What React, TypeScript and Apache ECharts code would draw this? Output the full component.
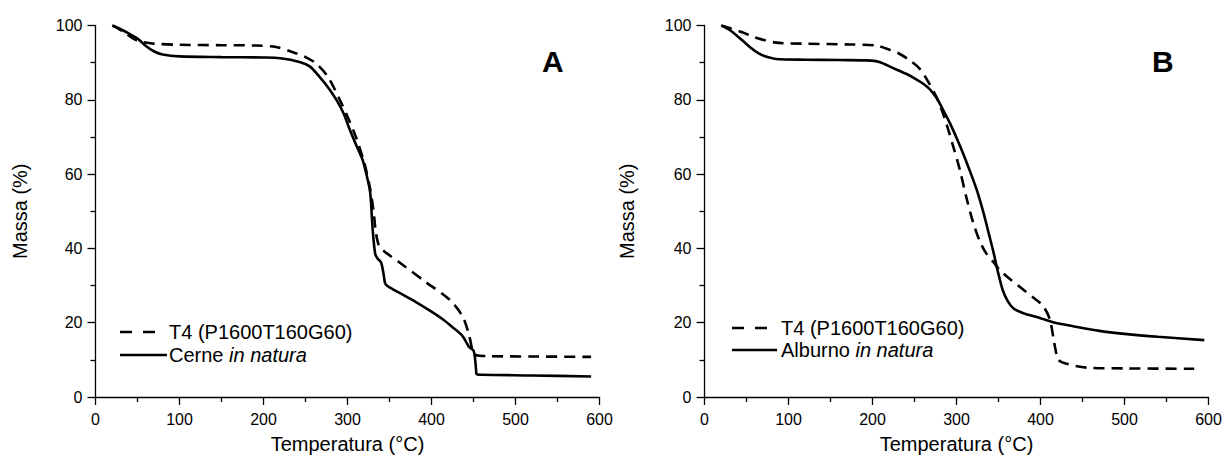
import React, { useEffect, useRef } from "react";
import * as echarts from "echarts";

// Panel A (Cerne)
const tempA_T4 = [20, 25, 35, 45, 55, 70, 100, 150, 192, 215, 235, 250, 263, 277, 291, 300, 310, 320, 327, 331, 334, 338, 346, 362, 394, 421, 437, 445, 449, 452, 469, 520, 590];
const massA_T4 = [100, 99.5, 98, 96.5, 95.6, 95.1, 94.8, 94.7, 94.6, 94.2, 92.8, 91.5, 89.7, 86.1, 79.9, 75.5, 70, 63, 56, 50, 44, 40.5, 38.8, 36.2, 30.8, 26.3, 21.7, 16.4, 12.3, 11.3, 11.0, 10.9, 10.8];
const tempA_Cerne = [20, 30, 40, 50, 60, 70, 80, 100, 150, 200, 220, 243, 255, 267, 278, 287, 295, 303, 310, 318, 323, 327, 330, 333, 336, 340, 343, 345, 350, 354, 370, 382, 400, 413, 425, 437, 442, 445, 450, 452, 453, 453.5, 460, 520, 590];
const massA_Cerne = [100, 99, 97.8, 96.5, 94.5, 93, 92.2, 91.7, 91.5, 91.4, 91.2, 90.2, 89, 86.1, 83, 79.9, 76.5, 71.8, 68, 63.8, 59.5, 55, 45, 38.5, 37.2, 36.2, 33, 30.5, 29.5, 29, 27, 25.5, 23, 21, 18.8, 16.4, 14.5, 13.4, 12.5, 10, 7.5, 6.2, 6.0, 5.8, 5.5];

// Panel B (Alburno)
const tempB_T4 = [20, 30, 45, 60, 85, 120, 173, 204, 220, 232, 245, 256, 266, 276, 282, 288, 296, 304, 312, 320, 328, 335, 345, 351, 365, 379, 393, 403, 411, 416, 419, 421, 430, 455, 500, 583];
const massB_T4 = [100, 99.3, 98.2, 96.8, 95.4, 95.1, 94.9, 94.6, 93.5, 92.4, 90.5, 88.4, 85, 80.8, 77.5, 73.6, 67.5, 61.1, 53.5, 46.8, 41.8, 38.8, 36, 34.3, 31.5, 29, 26.5, 24.5, 21, 15, 11.5, 10, 9, 7.9, 7.7, 7.6];
const tempB_Alburno = [20, 30, 45, 55, 65, 75, 85, 120, 160, 193, 208, 224, 240, 250, 260, 268, 276, 284, 292, 300, 308, 316, 324, 332, 339, 344, 349, 355, 361, 368, 379, 400, 415, 440, 470, 500, 540, 595];
const massB_Alburno = [100, 98.8, 96, 94, 92.4, 91.5, 91, 90.8, 90.7, 90.6, 90.2, 88.6, 87, 85.8, 84.4, 82.9, 80.6, 77.3, 73.8, 69.8, 65.5, 60.8, 55.8, 49.7, 43.5, 39, 34, 28.8, 25.8, 23.8, 22.6, 21.2, 20.1, 19, 17.8, 17, 16.2, 15.3];

const xTicks = { min: 0, max: 600, interval: 100 };
const yTicks = { min: 0, max: 100, interval: 20 };
const panelLabels = ["A", "B"];
const nameT4 = "T4 (P1600T160G60)";
const nameCerne = "Cerne in natura";
const nameAlburno = "Alburno in natura";

const FONT = "'Liberation Sans', Arial, sans-serif";

function zip(t: number[], m: number[]) {
  return t.map((v, i) => [v, m[i]]);
}

const italicize = (n: string) => (n.endsWith(" in natura") ? n.replace(" in natura", " {i|in natura}") : n);

function legendGroup(x: number, y1: number, y2: number, names: string[], solidLen: number) {
  const textStyle = (t: string) => ({
    text: italicize(t),
    font: `20px ${FONT}`,
    fill: "#000",
    verticalAlign: "middle",
    align: "left",
    rich: { i: { font: `italic 20px ${FONT}`, fill: "#000" } },
  });
  return [
    { type: "line", shape: { x1: x, y1: y1, x2: x + 35, y2: y1 }, style: { stroke: "#000", lineWidth: 2.6, lineDash: [12, 11] } },
    { type: "text", x: x + 49, y: y1, style: textStyle(names[0]) },
    { type: "line", shape: { x1: x, y1: y2, x2: x + solidLen, y2: y2 }, style: { stroke: "#000", lineWidth: 2.6 } },
    { type: "text", x: x + 49, y: y2, style: textStyle(names[1]) },
  ];
}

export default function App() {
  const ref = useRef<HTMLDivElement>(null);
  useEffect(() => {
    const chart = echarts.init(ref.current!, null, { renderer: "svg" });
    const axisCommon = {
      axisLine: { show: true, onZero: false, lineStyle: { color: "#000", width: 1.3 } },
      axisTick: { show: true, length: 8, lineStyle: { color: "#000", width: 1.3 } },
      minorTick: { show: true, splitNumber: 2, length: 5, lineStyle: { color: "#000", width: 1.3 } },
      splitLine: { show: false },
      minorSplitLine: { show: false },
    };
    const xAxis = [0, 1].map((g) => ({
      type: "value",
      gridIndex: g,
      ...xTicks,
      ...axisCommon,
      axisLabel: { margin: 14, fontSize: 16, color: "#000", fontFamily: FONT },
      name: "Temperatura (°C)",
      nameLocation: "middle",
      nameGap: 37,
      nameTextStyle: { fontSize: 20, color: "#000", fontFamily: FONT },
    }));
    const yAxis = [0, 1].map((g) => ({
      type: "value",
      gridIndex: g,
      ...yTicks,
      ...axisCommon,
      axisLabel: { margin: 13, fontSize: 16, color: "#000", fontFamily: FONT },
      name: "Massa (%)",
      nameLocation: "middle",
      nameGap: g === 0 ? 66 : 68,
      nameTextStyle: { fontSize: 20, color: "#000", fontFamily: FONT },
    }));
    const dashed = { color: "#000", width: 2.6, type: [11, 7] as number[] };
    const solid = { color: "#000", width: 2.6, type: "solid" };
    const lineBase = { type: "line", symbol: "none", smooth: 0.3, animation: false };
    const option = {
      animation: false,
      backgroundColor: "#fff",
      grid: [
        { left: 95.5, top: 25.5, width: 504, height: 372 },
        { left: 704.5, top: 25.5, width: 504, height: 372 },
      ],
      xAxis,
      yAxis,
      graphic: [
        { type: "text", left: 542, top: 46, style: { text: panelLabels[0], font: `bold 30px ${FONT}`, fill: "#000" } },
        { type: "text", left: 1152, top: 46, style: { text: panelLabels[1], font: `bold 30px ${FONT}`, fill: "#000" } },
        ...legendGroup(120, 332, 355, [nameT4, nameCerne], 47),
        ...legendGroup(732, 328, 350, [nameT4, nameAlburno], 45),
      ],
      series: [
        { ...lineBase, name: nameT4, xAxisIndex: 0, yAxisIndex: 0, data: zip(tempA_T4, massA_T4), lineStyle: dashed, itemStyle: { color: "#000" } },
        { ...lineBase, name: nameCerne, xAxisIndex: 0, yAxisIndex: 0, data: zip(tempA_Cerne, massA_Cerne), lineStyle: solid, itemStyle: { color: "#000" } },
        { ...lineBase, name: nameT4, xAxisIndex: 1, yAxisIndex: 1, data: zip(tempB_T4, massB_T4), lineStyle: dashed, itemStyle: { color: "#000" } },
        { ...lineBase, name: nameAlburno, xAxisIndex: 1, yAxisIndex: 1, data: zip(tempB_Alburno, massB_Alburno), lineStyle: solid, itemStyle: { color: "#000" } },
      ],
    };
    chart.setOption(option as any);
    return () => chart.dispose();
  }, []);
  return (
    <div
      ref={ref}
      style={{ position: "absolute", left: 0, top: 0, width: 1225, height: 459, background: "#fff" }}
    />
  );
}
